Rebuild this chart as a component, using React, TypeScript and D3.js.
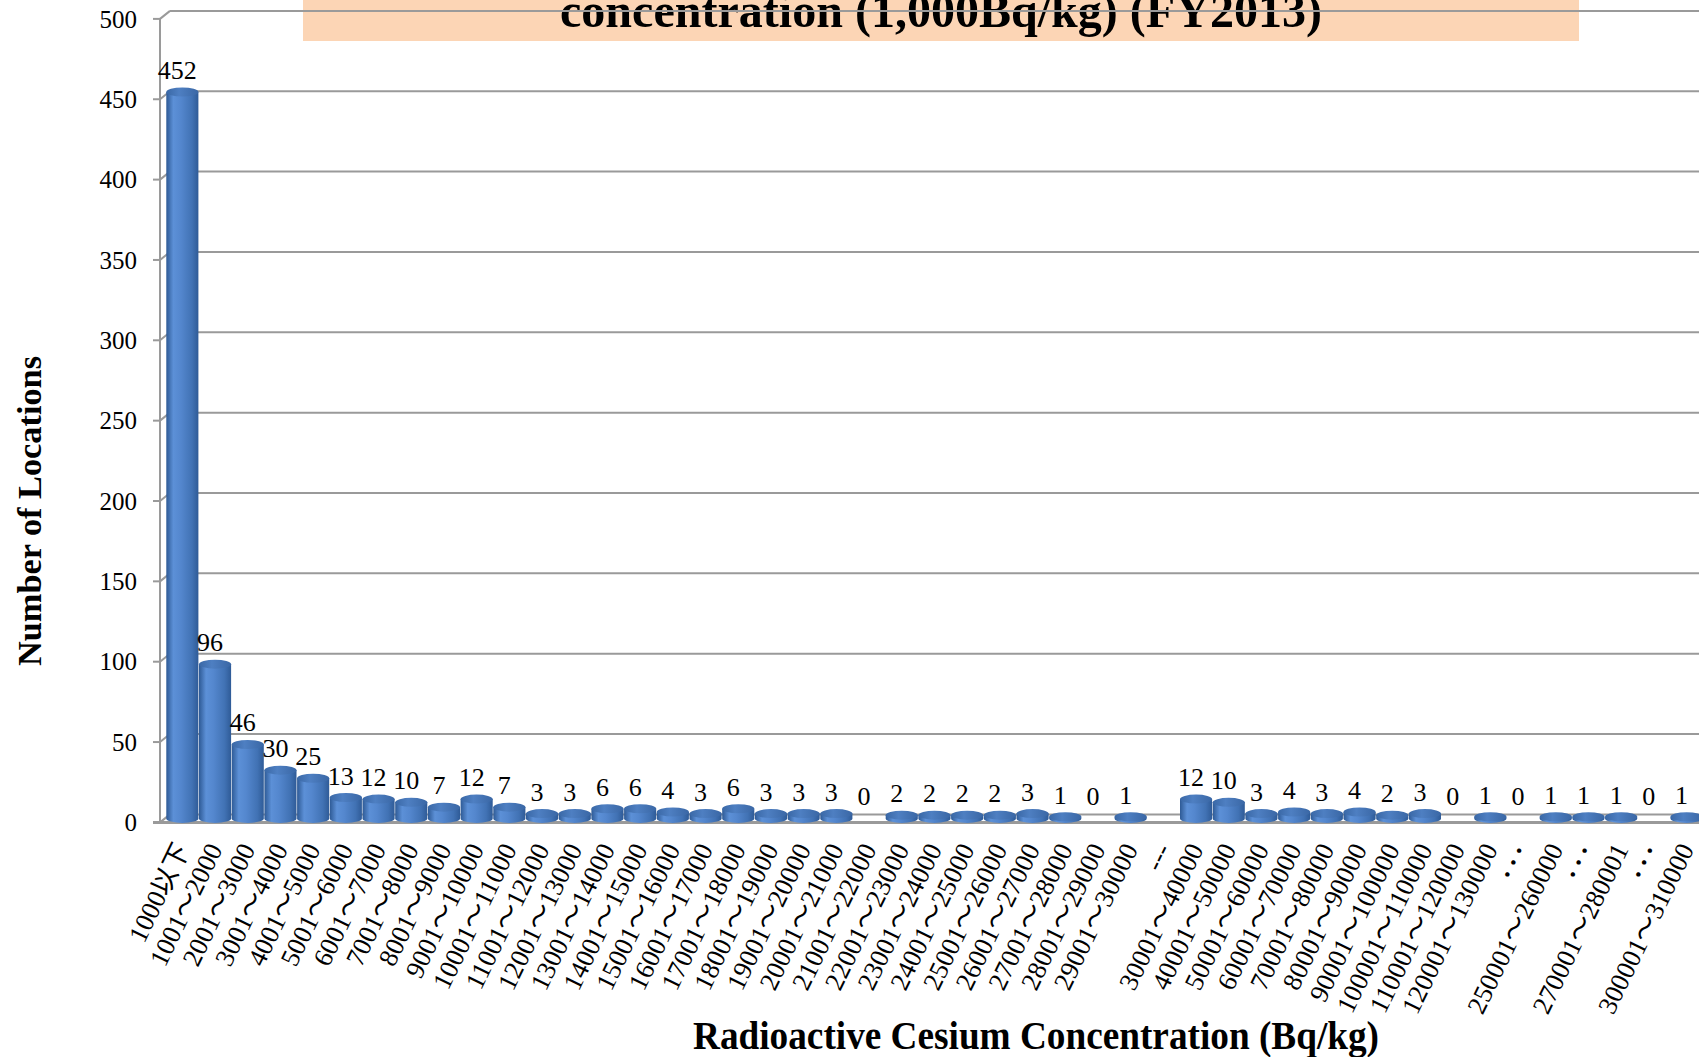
import * as d3 from "d3";
import React, { useEffect, useRef } from "react";

// bins of radioactive cesium concentration (Bq/kg)
const categories = [
  "1000以下", "1001～2000", "2001～3000", "3001～4000", "4001～5000",
  "5001～6000", "6001～7000", "7001～8000", "8001～9000", "9001～10000",
  "10001～11000", "11001～12000", "12001～13000", "13001～14000", "14001～15000",
  "15001～16000", "16001～17000", "17001～18000", "18001～19000", "19001～20000",
  "20001～21000", "21001～22000", "22001～23000", "23001～24000", "24001～25000",
  "25001～26000", "26001～27000", "27001～28000", "28001～29000", "29001～30000",
  "---", "30001～40000", "40001～50000", "50001～60000", "60001～70000",
  "70001～80000", "80001～90000", "90001～100000", "100001～110000", "110001～120000",
  "120001～130000", "･･･", "250001～260000", "･･･", "270001～280001",
  "･･･", "300001～310000",
];

// number of locations per bin (null = gap column)
const counts: (number | null)[] = [
  452, 96, 46, 30, 25, 13, 12, 10, 7, 12,
  7, 3, 3, 6, 6, 4, 3, 6, 3, 3,
  3, 0, 2, 2, 2, 2, 3, 1, 0, 1,
  null, 12, 10, 3, 4, 3, 4, 2, 3, 0,
  1, 0, 1, 1, 1, 0, 1,
];

const yTicks = [0, 50, 100, 150, 200, 250, 300, 350, 400, 450, 500];

const titleText = "concentration (1,000Bq/kg) (FY2013)";
const xTitle = "Radioactive Cesium Concentration (Bq/kg)";
const yTitle = "Number of Locations";

const W = 1699;
const H = 1057;
const FONT = "'Liberation Serif', 'Times New Roman', 'Noto Sans CJK JP', serif";

export default function App() {
  const ref = useRef<SVGSVGElement>(null);

  useEffect(() => {
    const svg = d3.select(ref.current);
    svg.selectAll("*").remove();

    const step = 32.7;
    const x = d3
      .scaleBand<number>()
      .domain(d3.range(counts.length))
      .range([166, 166 + step * counts.length])
      .padding(0);
    const y = d3.scaleLinear().domain([0, 500]).range([822.4, 18.9]);

    const axisX = 160;
    const ddx = 10; // 3d depth offset
    const ddy = -8;

    const defs = svg.append("defs");
    const body = defs.append("linearGradient").attr("id", "barBody");
    [
      [0, "#2e5a95"],
      [0.22, "#5c90d7"],
      [0.45, "#5487ce"],
      [0.8, "#4172b4"],
      [1, "#2f5b97"],
    ].forEach(([o, c]) =>
      body.append("stop").attr("offset", o as number).attr("stop-color", c as string)
    );
    const top = defs.append("linearGradient").attr("id", "barTop");
    [
      [0, "#3a68a6"],
      [0.4, "#4e7fc2"],
      [1, "#3a67a5"],
    ].forEach(([o, c]) =>
      top.append("stop").attr("offset", o as number).attr("stop-color", c as string)
    );

    // title box (its first line lies above the picture)
    svg.append("rect")
      .attr("x", 303).attr("y", 0).attr("width", 1276).attr("height", 41)
      .attr("fill", "#fcd5b5");
    svg.append("text")
      .attr("x", 941).attr("y", 27)
      .attr("text-anchor", "middle")
      .attr("font-family", FONT).attr("font-weight", "bold").attr("font-size", 48)
      .attr("textLength", 762).attr("lengthAdjust", "spacingAndGlyphs")
      .text(titleText);

    // walls and gridlines
    const grid = svg.append("g").attr("stroke", "#9a9a9a").attr("stroke-width", 2).attr("fill", "none");
    yTicks.forEach((t) => {
      grid.append("line")
        .attr("x1", axisX).attr("y1", y(t)).attr("x2", axisX + ddx).attr("y2", y(t) + ddy);
      grid.append("line")
        .attr("x1", axisX + ddx).attr("y1", y(t) + ddy).attr("x2", W).attr("y2", y(t) + ddy);
      grid.append("line")
        .attr("x1", axisX - 7).attr("y1", y(t)).attr("x2", axisX).attr("y2", y(t));
    });
    grid.append("line")
      .attr("x1", axisX).attr("y1", y(0)).attr("x2", axisX).attr("y2", y(500));
    grid.append("line")
      .attr("x1", axisX - 7).attr("y1", y(0)).attr("x2", W).attr("y2", y(0))
      .attr("stroke-width", 3);

    // cylinders
    const bars = svg.append("g");
    counts.forEach((v, i) => {
      if (v == null || v <= 0) return;
      const rx = x.bandwidth() / 2 - 0.3;
      const cx = x(i)! + x.bandwidth() / 2;
      const ry = 4.5;
      const yt = y(v) - 4;
      const yb = y(0) - 4;
      bars.append("path")
        .attr("d", `M${cx - rx},${yt}L${cx - rx},${yb}A${rx},${ry} 0 0 0 ${cx + rx},${yb}L${cx + rx},${yt}Z`)
        .attr("fill", "url(#barBody)");
      bars.append("ellipse")
        .attr("cx", cx).attr("cy", yt).attr("rx", rx).attr("ry", ry)
        .attr("fill", "url(#barTop)");
    });

    // value labels
    svg.append("g")
      .attr("font-family", FONT).attr("font-size", 26).attr("text-anchor", "middle")
      .selectAll("text")
      .data(counts.map((v, i) => ({ v, i })).filter((d) => d.v != null))
      .join("text")
      .attr("x", (d) => x(d.i)! + x.bandwidth() / 2 - 5)
      .attr("y", (d) => y(d.v as number) - 17)
      .text((d) => String(d.v));

    // y tick labels
    svg.append("g")
      .attr("font-family", FONT).attr("font-size", 25).attr("text-anchor", "end")
      .selectAll("text")
      .data(yTicks)
      .join("text")
      .attr("x", 137)
      .attr("y", (d) => y(d))
      .attr("dy", "0.35em")
      .text((d) => d);

    // x tick labels
    svg.append("g")
      .attr("font-family", FONT).attr("font-size", 26.5).attr("text-anchor", "end")
      .selectAll("text")
      .data(categories)
      .join("text")
      .attr("transform", (_, i) => `translate(${x(i)! + x.bandwidth() / 2 + 8},849) rotate(-64)`)
      .text((d) => d);

    // axis titles
    svg.append("text")
      .attr("transform", "translate(41,511) rotate(-90)")
      .attr("text-anchor", "middle")
      .attr("font-family", FONT).attr("font-weight", "bold").attr("font-size", 34)
      .attr("textLength", 310).attr("lengthAdjust", "spacingAndGlyphs")
      .text(yTitle);
    svg.append("text")
      .attr("x", 1036).attr("y", 1049)
      .attr("text-anchor", "middle")
      .attr("font-family", FONT).attr("font-weight", "bold").attr("font-size", 40)
      .attr("textLength", 686).attr("lengthAdjust", "spacingAndGlyphs")
      .text(xTitle);
  }, []);

  return (
    <svg
      ref={ref}
      width={W}
      height={H}
      style={{ position: "absolute", left: 0, top: 0, background: "#fff", display: "block" }}
    />
  );
}
